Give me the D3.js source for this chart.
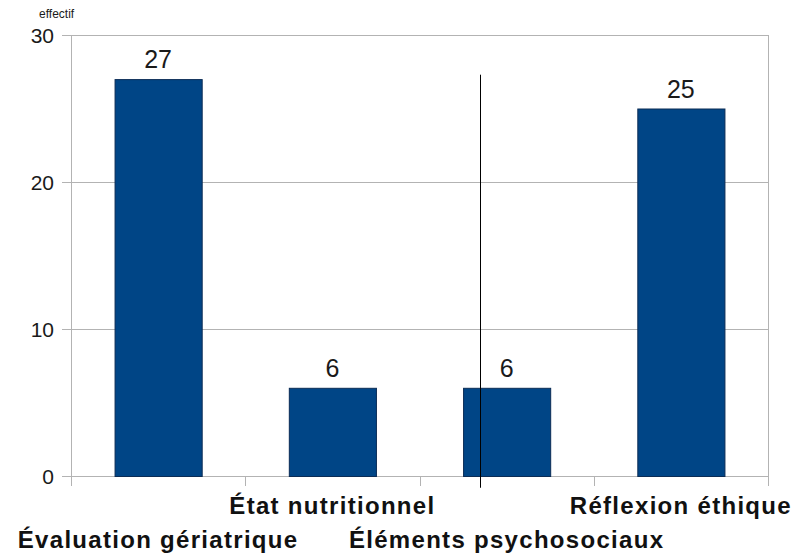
<!DOCTYPE html>
<html>
<head>
	<meta charset="utf-8">
	<title></title>
	<script src="https://d3js.org/d3.v7.min.js"></script>
	<style>
		body { margin: 0; background: #fff; }
		text { font-family: "Liberation Sans", Arial, sans-serif; }
	</style>
</head>
<body>

<script>

var categories = ["Évaluation gériatrique", "État nutritionnel", "Éléments psychosociaux", "Réflexion éthique"]
var values = [27, 6, 6, 25]
var yTicks = [0, 10, 20, 30]
var yLabel = "effectif"
// stray vertical line drawn over the third bar
var marker = {category: "Éléments psychosociaux", offset: 0.2, top: 27.3, bottom: -0.8}

var width = 804
var height = 558
var margin = {top: 35, right: 36, bottom: 82, left: 71}

var svg = d3.select('body').append('svg')
	.attr('width', width)
	.attr('height', height)

var x = d3.scaleBand()
	.domain(categories)
	.range([margin.left, width - margin.right])
	.paddingInner(0.5)
	.paddingOuter(0.25)

var y = d3.scaleLinear()
	.domain([0, 30])
	.range([height - margin.bottom, margin.top])

// band boundaries for category ticks
var xEdge = d3.scaleLinear().domain([0, categories.length]).range([margin.left, width - margin.right])

// gridlines + y ticks
svg.append("g")
	.selectAll("line")
	.data(yTicks)
	.enter().append("line")
	.attr("x1", margin.left - 9)
	.attr("x2", width - margin.right)
	.attr("y1", function(d) { return y(d) + 0.5 })
	.attr("y2", function(d) { return y(d) + 0.5 })
	.style("stroke", "#b3b3b3")
	.style("stroke-width", 1)

svg.append("g")
	.selectAll("text")
	.data(yTicks)
	.enter().append("text")
	.attr("x", margin.left - 17)
	.attr("y", function(d) { return y(d) + 8 })
	.attr("text-anchor", "end")
	.style("font-size", "21px")
	.style("fill", "#1a1a1a")
	.text(function(d) { return d })

// axes lines
svg.append("line")
	.attr("x1", margin.left + 0.5).attr("x2", margin.left + 0.5)
	.attr("y1", y(30)).attr("y2", y(0) + 10)
	.style("stroke", "#b3b3b3")
svg.append("line")
	.attr("x1", width - margin.right + 0.5).attr("x2", width - margin.right + 0.5)
	.attr("y1", y(30)).attr("y2", y(0) + 10)
	.style("stroke", "#b3b3b3")

svg.append("g")
	.selectAll("line")
	.data(d3.range(1, categories.length))
	.enter().append("line")
	.attr("x1", function(d) { return Math.round(xEdge(d)) + 0.5 })
	.attr("x2", function(d) { return Math.round(xEdge(d)) + 0.5 })
	.attr("y1", y(0))
	.attr("y2", y(0) + 10)
	.style("stroke", "#b3b3b3")

// bars
svg.append("g")
	.selectAll("rect")
	.data(values)
	.enter().append("rect")
	.attr("x", function(d, i) { return x(categories[i]) + 0.5 })
	.attr("y", function(d) { return y(d) + 0.5 })
	.attr("width", x.bandwidth())
	.attr("height", function(d) { return y(0) - y(d) })
	.style("fill", "#004586")
	.style("stroke", "#0b2c55")
	.style("stroke-width", 1)

// value labels
svg.append("g")
	.selectAll("text")
	.data(values)
	.enter().append("text")
	.attr("x", function(d, i) { return x(categories[i]) + x.bandwidth() / 2 })
	.attr("y", function(d) { return y(d) - 11 })
	.attr("text-anchor", "middle")
	.style("font-size", "25px")
	.style("fill", "#1a1a1a")
	.text(function(d) { return d })

// category labels, staggered
svg.append("g")
	.selectAll("text")
	.data(categories)
	.enter().append("text")
	.attr("x", function(d) { return x(d) + x.bandwidth() / 2 })
	.attr("y", function(d, i) { return i % 2 == 0 ? y(0) + 72 : y(0) + 38 })
	.attr("text-anchor", "middle")
	.style("font-size", "24px")
	.style("letter-spacing", "1.3px")
	.style("font-weight", "bold")
	.style("fill", "#111")
	.text(function(d) { return d })

// axis title
svg.append("text")
	.attr("x", margin.left - 32)
	.attr("y", margin.top - 17)
	.style("font-size", "12px")
	.style("fill", "#1a1a1a")
	.text(yLabel)

// marker line
var mx = Math.round(x(marker.category) + x.bandwidth() * marker.offset) + 0.5
svg.append("line")
	.attr("x1", mx).attr("x2", mx)
	.attr("y1", y(marker.top)).attr("y2", y(marker.bottom))
	.style("stroke", "#000")
	.style("stroke-width", 1)

</script>

</body>
</html>
